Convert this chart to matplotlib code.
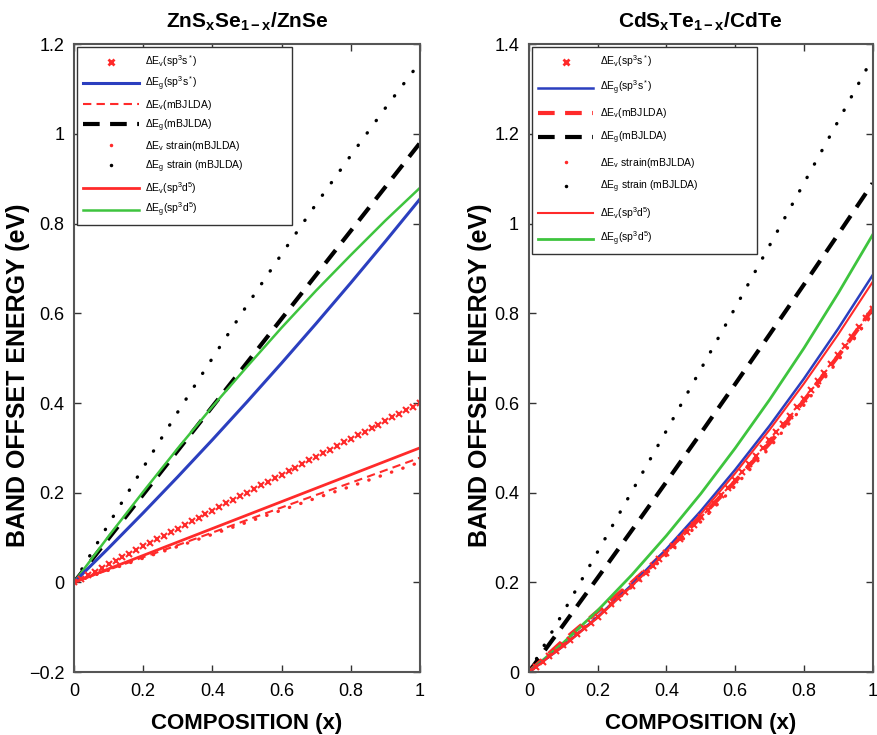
import numpy as np
import matplotlib
matplotlib.use("Agg")
import matplotlib.pyplot as plt
from matplotlib.lines import Line2D

plt.rcParams['font.family'] = ['Liberation Sans', 'DejaVu Sans']
plt.rcParams['mathtext.fontset'] = 'custom'
plt.rcParams['mathtext.rm'] = 'Liberation Sans'
plt.rcParams['mathtext.it'] = 'Liberation Sans'
plt.rcParams['mathtext.bf'] = 'Liberation Sans:bold'
plt.rcParams['mathtext.default'] = 'regular'

# composition grids
comp = [0.0, 0.1, 0.2, 0.3, 0.4, 0.5, 0.6, 0.7, 0.8, 0.9, 1.0]
comp_fine = [round(0.02 * i, 2) for i in range(51)]

# ---- ZnS(x)Se(1-x)/ZnSe ----
zn_ev_sp3s = [0, .008, .016, .024, .032, .04, .048, .056, .064, .072, .08,
              .088, .096, .104, .112, .12, .128, .136, .144, .152, .16,
              .168, .176, .184, .192, .2, .208, .216, .224, .232, .24,
              .248, .256, .264, .272, .28, .288, .296, .304, .312, .32,
              .328, .336, .344, .352, .36, .368, .376, .384, .392, .4]
zn_eg_sp3s = [0, 0.0765, 0.155, 0.2355, 0.318, 0.4025, 0.489, 0.5775, 0.668, 0.7605, 0.855]
zn_ev_mbj = [0, 0.028, 0.056, 0.083, 0.111, 0.139, 0.167, 0.195, 0.222, 0.250, 0.278]
zn_eg_mbj = [0, 0.098, 0.196, 0.294, 0.392, 0.49, 0.588, 0.686, 0.784, 0.882, 0.98]
zn_ev_strain = [0, 0.027, 0.054, 0.080, 0.107, 0.134, 0.161, 0.188, 0.214, 0.241, 0.268]
zn_eg_strain = [0, 0.130, 0.256, 0.380, 0.500, 0.618, 0.732, 0.844, 0.952, 1.058, 1.16]
zn_ev_sp3d5 = [0, 0.03, 0.06, 0.09, 0.12, 0.15, 0.18, 0.21, 0.24, 0.27, 0.30]
zn_eg_sp3d5 = [0, 0.103, 0.202, 0.299, 0.392, 0.481, 0.568, 0.651, 0.730, 0.807, 0.88]

# ---- CdS(x)Te(1-x)/CdTe ----
cd_ev_sp3s = [0, .0115, .0232, .0351, .0471, .0594, .0719, .0845, .0973, .1104, .1236,
              .1370, .1506, .1644, .1784, .1926, .2070, .2215, .2363, .2513, .2664,
              .2817, .2973, .3130, .3289, .3450, .3613, .3778, .3945, .4113, .4284,
              .4457, .4631, .4807, .4986, .5166, .5348, .5532, .5718, .5906, .6096,
              .6288, .6481, .6677, .6875, .7074, .7275, .7479, .7684, .7891, .81]
cd_eg_sp3s = [0, 0.058, 0.123, 0.195, 0.274, 0.359, 0.451, 0.549, 0.654, 0.766, 0.885]
cd_ev_mbj = [0, 0.07, 0.135, 0.2, 0.27, 0.345, 0.425, 0.51, 0.605, 0.705, 0.81]
cd_eg_mbj = [0, 0.1045, 0.210, 0.3165, 0.424, 0.5325, 0.642, 0.7525, 0.864, 0.9765, 1.09]
cd_ev_strain = [0, 0.06, 0.125, 0.19, 0.26, 0.335, 0.415, 0.5, 0.595, 0.695, 0.80]
cd_eg_strain = [0, 0.133, 0.268, 0.403, 0.538, 0.675, 0.812, 0.951, 1.090, 1.229, 1.37]
cd_ev_sp3d5 = [0, 0.057, 0.121, 0.192, 0.269, 0.352, 0.443, 0.540, 0.643, 0.753, 0.87]
cd_eg_sp3d5 = [0, 0.065, 0.137, 0.217, 0.304, 0.3975, 0.499, 0.607, 0.722, 0.845, 0.975]

labels = [r'$\Delta$E$_v$(sp$^3$s$^*$)', r'$\Delta$E$_g$(sp$^3$s$^*$)',
          r'$\Delta$E$_v$(mBJLDA)', r'$\Delta$E$_g$(mBJLDA)',
          r'$\Delta$E$_v$ strain(mBJLDA)', r'$\Delta$E$_g$ strain (mBJLDA)',
          r'$\Delta$E$_v$(sp$^3$d$^5$)', r'$\Delta$E$_g$(sp$^3$d$^5$)']

RED = '#ff2a2a'
BLUE = '#2b3fbf'
GREEN = '#3ec43e'

fig = plt.figure(figsize=(8.77, 7.35), dpi=100)
ax1 = fig.add_axes([0.0844, 0.0857, 0.3945, 0.854])
ax2 = fig.add_axes([0.603, 0.0857, 0.392, 0.854])


def draw(ax, ev_s, eg_s, ev_m, eg_m, ev_st, eg_st, ev_d, eg_d, lw, spacing, pad):
    ax.plot(comp, eg_st, color='k', lw=2.4, linestyle=(0, (0.1, 4.5)),
            dash_capstyle='round')
    ax.plot(comp, eg_m, color='k', lw=3, linestyle=(0, (4, 2.5)))
    ax.plot(comp, ev_st, color=RED, lw=2.4, linestyle=(0, (0.1, 3.5)),
            dash_capstyle='round')
    ax.plot(comp, ev_m, color=RED, lw=lw['evm'], linestyle=(0, (4, 2.5)))
    ax.plot(comp, eg_d, color=GREEN, lw=lw['egd'])
    ax.plot(comp, eg_s, color=BLUE, lw=lw['egs'])
    ax.plot(comp, ev_d, color=RED, lw=lw['evd'])
    ax.plot(comp_fine, ev_s, color=RED, linestyle='none', marker='x',
            markersize=5, markeredgewidth=1.5)

    handles = [
        Line2D([], [], color=RED, linestyle='none', marker='x', markersize=5, markeredgewidth=2),
        Line2D([], [], color=BLUE, lw=lw['egs']),
        Line2D([], [], color=RED, lw=lw['evm'], linestyle=(0, (4, 2.5))),
        Line2D([], [], color='k', lw=3, linestyle=(0, (4, 2.5))),
        Line2D([], [], color=RED, linestyle='none', marker='.', markersize=3),
        Line2D([], [], color='k', linestyle='none', marker='.', markersize=3),
        Line2D([], [], color=RED, lw=lw['evd']),
        Line2D([], [], color=GREEN, lw=lw['egd']),
    ]
    # MATLAB legends carry extra room on the right
    padded = [lab + '\u2003' * pad for lab in labels]
    leg = ax.legend(handles, padded, loc='upper left', fontsize=7.5,
                    handlelength=5.3, handletextpad=0.6, labelspacing=spacing,
                    borderpad=0.6, fancybox=False, framealpha=1,
                    edgecolor='#333333', borderaxespad=0.3)
    leg.get_frame().set_linewidth(1.0)

    ax.set_xlim(0, 1)
    ax.set_xticks([0, 0.2, 0.4, 0.6, 0.8, 1])
    ax.set_xticklabels(['0', '0.2', '0.4', '0.6', '0.8', '1'])
    ax.tick_params(direction='in', top=True, right=True, labelsize=13,
                   length=5, width=1, color='#333333')
    ax.tick_params(axis='x', pad=8)
    ax.tick_params(axis='y', pad=7)
    for s in ax.spines.values():
        s.set_linewidth(1.5)
        s.set_color('#555555')
    ax.set_xlabel('COMPOSITION (x)', fontsize=16, fontweight='bold', labelpad=9)
    ax.set_ylabel('BAND OFFSET ENERGY (eV)', fontsize=18, fontweight='bold')


draw(ax1, zn_ev_sp3s, zn_eg_sp3s, zn_ev_mbj, zn_eg_mbj, zn_ev_strain, zn_eg_strain,
     zn_ev_sp3d5, zn_eg_sp3d5, {'evm': 1.5, 'egs': 2.2, 'evd': 2.0, 'egd': 1.8}, 0.5, 5)
draw(ax2, cd_ev_sp3s, cd_eg_sp3s, cd_ev_mbj, cd_eg_mbj, cd_ev_strain, cd_eg_strain,
     cd_ev_sp3d5, cd_eg_sp3d5, {'evm': 3.0, 'egs': 1.8, 'evd': 1.5, 'egd': 2.0}, 0.9, 6)

ax1.yaxis.set_label_coords(-0.127, 0.473)
ax2.yaxis.set_label_coords(-0.108, 0.473)

ax1.set_ylim(-0.2, 1.2)
ax1.set_yticks([-0.2, 0, 0.2, 0.4, 0.6, 0.8, 1, 1.2])
ax1.set_yticklabels(['\u22120.2', '0', '0.2', '0.4', '0.6', '0.8', '1', '1.2'])
ax2.set_ylim(0, 1.4)
ax2.set_yticks([0, 0.2, 0.4, 0.6, 0.8, 1, 1.2, 1.4])
ax2.set_yticklabels(['0', '0.2', '0.4', '0.6', '0.8', '1', '1.2', '1.4'])

ax1.set_title(r'ZnS$_{\mathbf{x}}$Se$_{\mathbf{1-x}}$/ZnSe', fontsize=15, fontweight='bold', pad=12)
ax2.set_title(r'CdS$_{\mathbf{x}}$Te$_{\mathbf{1-x}}$/CdTe', fontsize=15, fontweight='bold', pad=12)

fig.savefig('out.png', dpi=100)
